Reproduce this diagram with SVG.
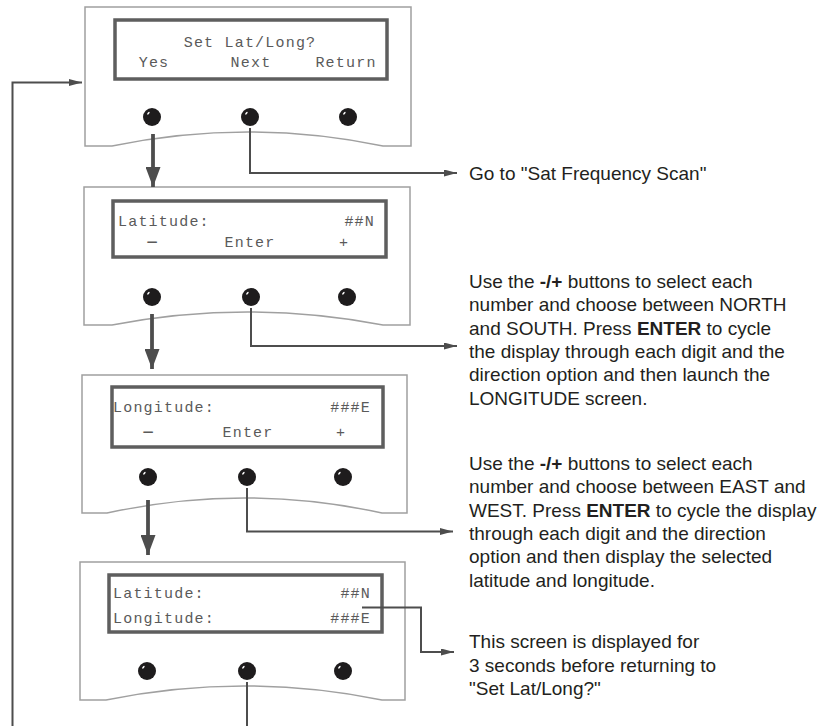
<svg xmlns="http://www.w3.org/2000/svg" width="826" height="726" viewBox="0 0 826 726">
<defs>
<style>
.panel{fill:#fff;stroke:#a0a0a0;stroke-width:1.5}
.screen{fill:#fff;stroke:#5e5e5e;stroke-width:3.5}
.lcd{font-family:"Liberation Mono","DejaVu Sans Mono",monospace;font-size:15px;letter-spacing:1.2px;fill:#5a5a5a}
.dash{font-size:22px;letter-spacing:0}
.btn{fill:#1e1c1d}
.hl{fill:#fff}
.note{font-family:"Liberation Sans",Arial,sans-serif;font-size:19px;fill:#231f20}
.thin{fill:none;stroke:#4d4d4d;stroke-width:2}
.thick{fill:none;stroke:#4d4d4d;stroke-width:3.8}
</style>
<marker id="ah" markerUnits="userSpaceOnUse" markerWidth="13" markerHeight="7" refX="13" refY="3.5" orient="auto">
<path d="M0,0 L13,3.5 L0,7 Z" fill="#4d4d4d"/>
</marker>
<marker id="bh" markerUnits="userSpaceOnUse" markerWidth="20" markerHeight="15" refX="20" refY="7.5" orient="auto">
<path d="M0,0 L20,7.5 L0,15 Z" fill="#4d4d4d"/>
</marker>
<g id="button">
<circle r="9" class="btn"/>
<ellipse cx="-3.6" cy="-3.8" rx="1.7" ry="0.8" transform="rotate(-50 -3.6 -3.8)" class="hl"/>
</g>
</defs>

<g id="panel1">
<path class="panel" d="M85,7 H411 V146 H383 Q248,118 112,146 H85 Z"/>
<rect class="screen" x="115" y="20" width="272" height="59"/>
<text class="lcd" x="250" y="47" text-anchor="middle">Set Lat/Long?</text>
<text class="lcd" x="154" y="67" text-anchor="middle">Yes</text>
<text class="lcd" x="251" y="67" text-anchor="middle">Next</text>
<text class="lcd" x="346" y="67" text-anchor="middle">Return</text>
<use href="#button" x="152" y="117"/>
<use href="#button" x="250" y="117"/>
<use href="#button" x="348" y="117"/>
</g>

<g id="panel2">
<path class="panel" d="M84,187 H410 V325 H383 Q247,299 112,325 H84 Z"/>
<rect class="screen" x="113" y="201" width="273" height="56"/>
<text class="lcd" x="118" y="226">Latitude:</text>
<text class="lcd" x="375" y="226" text-anchor="end">##N</text>
<text class="lcd dash" x="152" y="248" text-anchor="middle">–</text>
<text class="lcd" x="250" y="247" text-anchor="middle">Enter</text>
<text class="lcd" x="344" y="247" text-anchor="middle">+</text>
<use href="#button" x="152" y="297"/>
<use href="#button" x="251" y="297"/>
<use href="#button" x="347" y="297"/>
</g>

<g id="panel3">
<path class="panel" d="M82,375 H407 V513 H382 Q244,483 107,513 H82 Z"/>
<rect class="screen" x="112" y="387" width="271" height="60"/>
<text class="lcd" x="113" y="412">Longitude:</text>
<text class="lcd" x="371" y="412" text-anchor="end">###E</text>
<text class="lcd dash" x="148" y="438" text-anchor="middle">–</text>
<text class="lcd" x="248" y="437" text-anchor="middle">Enter</text>
<text class="lcd" x="341" y="437" text-anchor="middle">+</text>
<use href="#button" x="148" y="477"/>
<use href="#button" x="247" y="477"/>
<use href="#button" x="343" y="477"/>
</g>

<g id="panel4">
<path class="panel" d="M80,562 H405 V700 H382 Q244,672 106,700 H80 Z"/>
<rect class="screen" x="109" y="575" width="273" height="57"/>
<text class="lcd" x="113" y="598">Latitude:</text>
<text class="lcd" x="371" y="598" text-anchor="end">##N</text>
<text class="lcd" x="113" y="623">Longitude:</text>
<text class="lcd" x="371" y="623" text-anchor="end">###E</text>
<use href="#button" x="147" y="671"/>
<use href="#button" x="247" y="671"/>
<use href="#button" x="343" y="671"/>
</g>

<g id="notes">
<text class="note" x="469" y="180">Go to "Sat Frequency Scan"</text>
<text class="note" x="469" y="288">Use the <tspan font-weight="bold">-/+</tspan> buttons to select each</text>
<text class="note" x="469" y="311.3">number and choose between NORTH</text>
<text class="note" x="469" y="334.6">and SOUTH. Press <tspan font-weight="bold">ENTER</tspan> to cycle</text>
<text class="note" x="469" y="358">the display through each digit and the</text>
<text class="note" x="469" y="381.3">direction option and then launch the</text>
<text class="note" x="469" y="404.6">LONGITUDE screen.</text>
<text class="note" x="469" y="470">Use the <tspan font-weight="bold">-/+</tspan> buttons to select each</text>
<text class="note" x="469" y="493.3">number and choose between EAST and</text>
<text class="note" x="469" y="516.7">WEST. Press <tspan font-weight="bold">ENTER</tspan> to cycle the display</text>
<text class="note" x="469" y="540">through each digit and the direction</text>
<text class="note" x="469" y="563.3">option and then display the selected</text>
<text class="note" x="469" y="586.7">latitude and longitude.</text>
<text class="note" x="469" y="648.3">This screen is displayed for</text>
<text class="note" x="469" y="671.7">3 seconds before returning to</text>
<text class="note" x="469" y="695">"Set Lat/Long?"</text>
</g>

<g id="connectors">
<path class="thick" d="M153,134 V187" marker-end="url(#bh)"/>
<path class="thick" d="M152,314 V369" marker-end="url(#bh)"/>
<path class="thick" d="M148,500 V555" marker-end="url(#bh)"/>
<path class="thin" d="M250,128 V173 H457" marker-end="url(#ah)"/>
<path class="thin" d="M251,308 V346 H457" marker-end="url(#ah)"/>
<path class="thin" d="M247,488 V531.5 H453" marker-end="url(#ah)"/>
<path class="thin" d="M362,607.5 H421 V652 H454" marker-end="url(#ah)"/>
<path class="thin" d="M247,682 V726"/>
<path class="thin" d="M12.5,726 V82.5 H82" marker-end="url(#ah)"/>
</g>
</svg>
